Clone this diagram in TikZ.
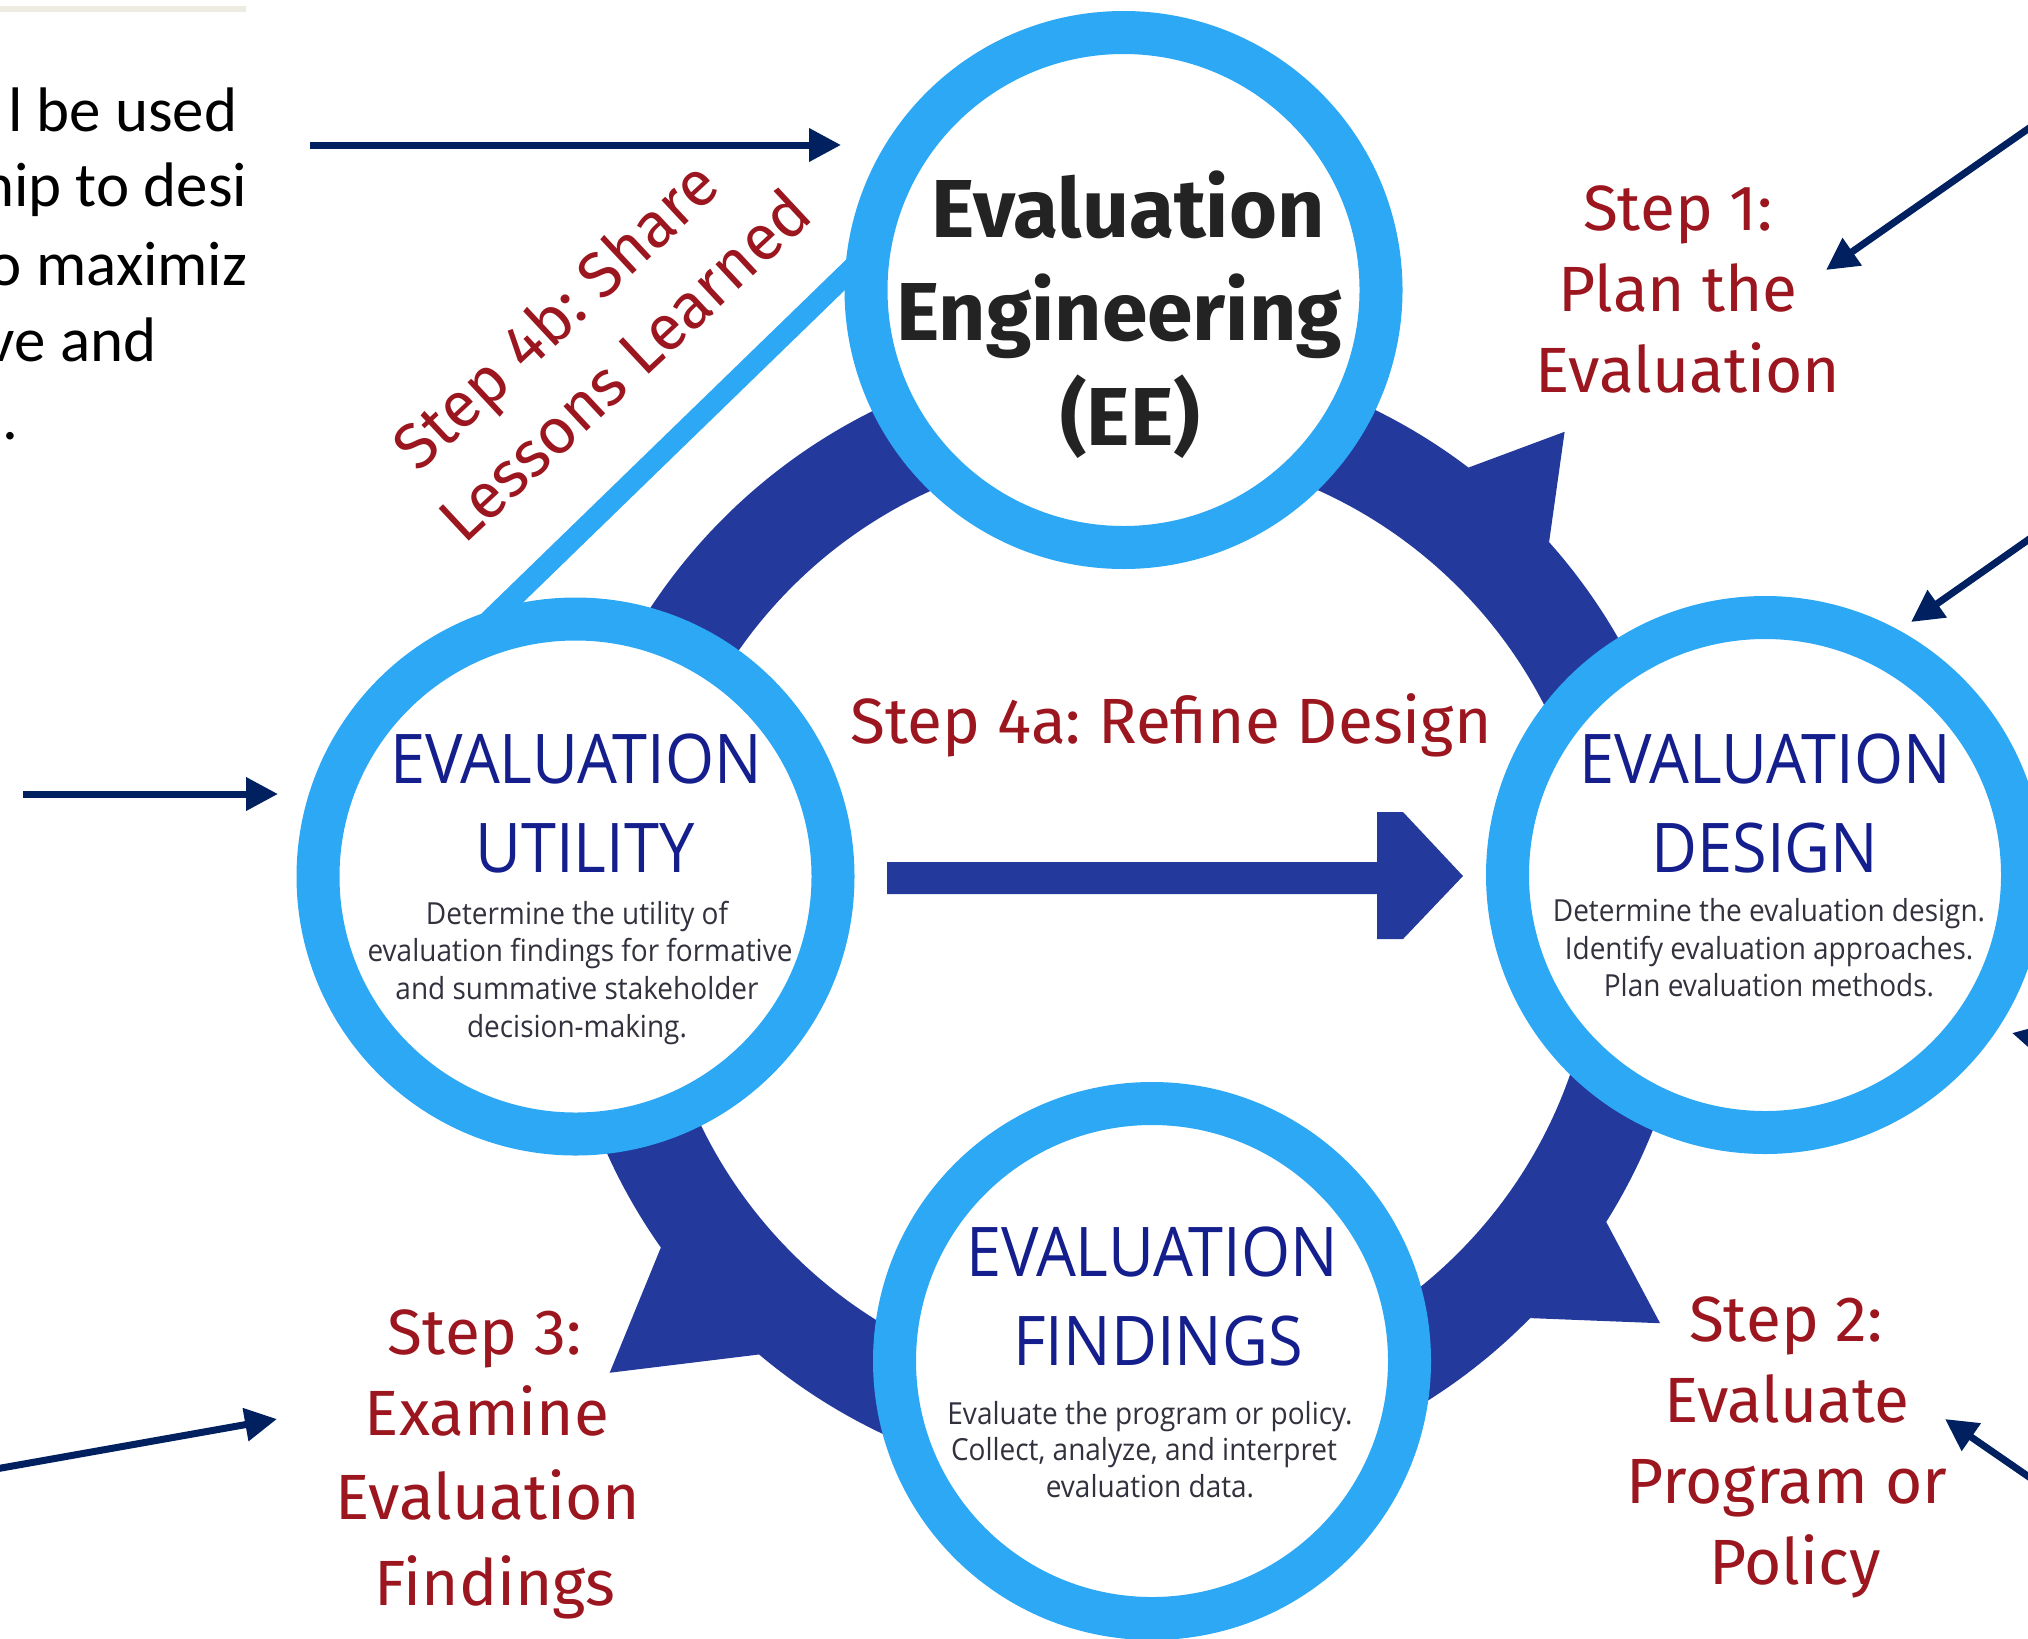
\documentclass[tikz,border=0pt]{standalone}
\usepackage{fontspec}
\usetikzlibrary{arrows.meta}
\newfontfamily\eefont{Fira Sans}
\newfontfamily\titlefont[FakeStretch=0.92]{Open Sans}
\newfontfamily\bodyfont[FakeStretch=0.92]{Open Sans}
\newfontfamily\slidefont{Carlito}
\definecolor{ringblue}{RGB}{45,168,245}
\definecolor{bandblue}{RGB}{35,58,156}
\definecolor{titleblue}{RGB}{20,30,140}
\definecolor{bodygray}{RGB}{50,50,62}
\definecolor{stepred}{RGB}{155,22,30}
\definecolor{eegray}{RGB}{35,35,35}
\definecolor{navy}{RGB}{0,32,96}
\definecolor{slidetan}{RGB}{238,236,225}
\frenchspacing
\begin{document}
\begin{tikzpicture}[x=0.1mm, y=-0.1mm]
    % Node styles
    \tikzstyle{none}=[inner sep=0mm]
    \tikzstyle{stage circle}=[fill=white, draw=ringblue, shape=circle, line width=4.3mm, minimum size=51.5mm, inner sep=0mm]
    \tikzstyle{ee label}=[inner sep=0mm, anchor=base, text=eegray, font=\eefont\bfseries\fontsize{23.4pt}{27pt}\selectfont]
    \tikzstyle{step label}=[inner sep=0mm, anchor=base, text=stepred, font=\eefont\fontsize{18.2pt}{21pt}\selectfont]
    \tikzstyle{stage title}=[inner sep=0mm, anchor=base, text=titleblue, font=\titlefont\fontsize{19.5pt}{23pt}\selectfont]
    \tikzstyle{stage text}=[inner sep=0mm, anchor=base, text=bodygray, font=\bodyfont\fontsize{8.65pt}{10pt}\selectfont]
    \tikzstyle{slide text}=[inner sep=0mm, anchor=base east, text=black, font=\slidefont\fontsize{17.9pt}{21pt}\selectfont]
    % Edge styles
    \tikzstyle{pointer}=[draw=navy, line width=0.7mm, -{Triangle[length=3.2mm, width=3.2mm]}]
    \tikzstyle{lesson line}=[draw=ringblue, line width=2.1mm, shorten <=-2mm, shorten >=-2mm]
    \tikzstyle{cycle band}=[draw=bandblue, line width=9.7mm]

    \useasboundingbox (0, 0) rectangle (2028, 1638);
    \clip (0, 0) rectangle (2028, 1638);

    \fill [slidetan] (0, 6) rectangle (246, 12);
    \draw [style=cycle band] (1125, 920) circle [radius=51.95mm];
    \begin{scope}[shift={(1125, 920)}]
        \fill [bandblue] (52.8:56.8mm) -- (48:65.7mm) -- (41.7:56.8mm) -- cycle;
        \fill [bandblue] (-32.1:56.8mm) -- (-37:67mm) -- (-44.5:56.8mm) -- cycle;
        \fill [bandblue] (215.2:56.8mm) -- (221.3:68.6mm) -- (229.9:56.8mm) -- cycle;
    \end{scope}
    \fill [bandblue] (887, 862) -- (1377, 862) -- (1377, 812) -- (1403, 812) -- (1463, 876) -- (1403, 939) -- (1377, 939) -- (1377, 894) -- (887, 894) -- cycle;

    \node [style=stage circle] (0) at (1123.5, 290) {};
    \node [style=stage circle] (1) at (575.5, 876.5) {};
    \node [style=stage circle] (2) at (1765, 875) {};
    \node [style=stage circle] (3) at (1152, 1361) {};
    \node [style=ee label] (4) at (1128, 237) {Evaluation};
    \node [style=ee label] (5) at (1119, 340) {Engineering};
    \node [style=ee label] (6) at (1130, 445) {(EE)};
    \node [style=stage title] (7) at (576, 783) {EVALUATION};
    \node [style=stage title] (8) at (585, 872) {UTILITY};
    \node [style=stage text] (9) at (577, 924) {Determine the utility of};
    \node [style=stage text] (10) at (580, 961) {evaluation findings for formative};
    \node [style=stage text] (11) at (577, 999) {and summative stakeholder};
    \node [style=stage text] (12) at (577, 1037) {decision-making.};
    \node [style=stage title] (13) at (1765, 783) {EVALUATION};
    \node [style=stage title] (14) at (1765, 872) {DESIGN};
    \node [style=stage text] (15) at (1769, 921) {Determine the evaluation design.};
    \node [style=stage text] (16) at (1769, 959) {Identify evaluation approaches.};
    \node [style=stage text] (17) at (1769, 996) {Plan evaluation methods.};
    \node [style=stage title] (18) at (1152, 1276) {EVALUATION};
    \node [style=stage title] (19) at (1158, 1365) {FINDINGS};
    \node [style=stage text] (20) at (1150, 1424) {Evaluate the program or policy.};
    \node [style=stage text] (21) at (1144, 1460) {Collect, analyze, and interpret};
    \node [style=stage text] (22) at (1150, 1497) {evaluation data.};
    \node [style=step label] (23) at (1678, 230) {Step 1:};
    \node [style=step label] (24) at (1678, 311) {Plan the};
    \node [style=step label] (25) at (1688, 392) {Evaluation};
    \node [style=step label] (26) at (1786, 1341) {Step 2:};
    \node [style=step label] (27) at (1787, 1422) {Evaluate};
    \node [style=step label] (28) at (1787, 1503) {Program or};
    \node [style=step label] (29) at (1795, 1584) {Policy};
    \node [style=step label] (30) at (485, 1354) {Step 3:};
    \node [style=step label] (31) at (487, 1435) {Examine};
    \node [style=step label] (32) at (488, 1519) {Evaluation};
    \node [style=step label] (33) at (495, 1605) {Findings};
    \node [style=step label] (34) at (1171, 743) {Step 4a: Refine Design};
    \node [style=step label, rotate=43] (35) at (571, 332) {Step 4b: Share};
    \node [style=step label, rotate=43] (36) at (640, 382) {Lessons Learned};
    \node [style=slide text] (37) at (238, 131) {l be used};
    \node [style=slide text] (38) at (248, 206) {hip to desi};
    \node [style=slide text] (39) at (248, 285) {o maximiz};
    \node [style=slide text] (40) at (157, 361) {ve and};
    \node [style=slide text, anchor=base west] (41) at (2, 439) {.};
    \node [style=none] (42) at (310, 145) {};
    \node [style=none] (43) at (841, 145) {};
    \node [style=none] (44) at (23, 794) {};
    \node [style=none] (45) at (278, 794) {};
    \node [style=none] (46) at (2045, 117) {};
    \node [style=none] (47) at (1826, 270) {};
    \node [style=none] (48) at (2045, 528) {};
    \node [style=none] (49) at (1911, 622) {};
    \node [style=none] (50) at (2110, 1056) {};
    \node [style=none] (51) at (2012, 1033) {};
    \node [style=none] (52) at (2045, 1488) {};
    \node [style=none] (53) at (1945, 1419) {};
    \node [style=none] (54) at (-10, 1470) {};
    \node [style=none] (55) at (277, 1419) {};

    \draw [style=lesson line] (1.105) to (0.177);
    \draw [style=pointer] (42.center) to (43.center);
    \draw [style=pointer] (44.center) to (45.center);
    \draw [style=pointer] (46.center) to (47.center);
    \draw [style=pointer] (48.center) to (49.center);
    \draw [style=pointer] (50.center) to (51.center);
    \draw [style=pointer] (52.center) to (53.center);
    \draw [style=pointer] (54.center) to (55.center);
\end{tikzpicture}
\end{document}
